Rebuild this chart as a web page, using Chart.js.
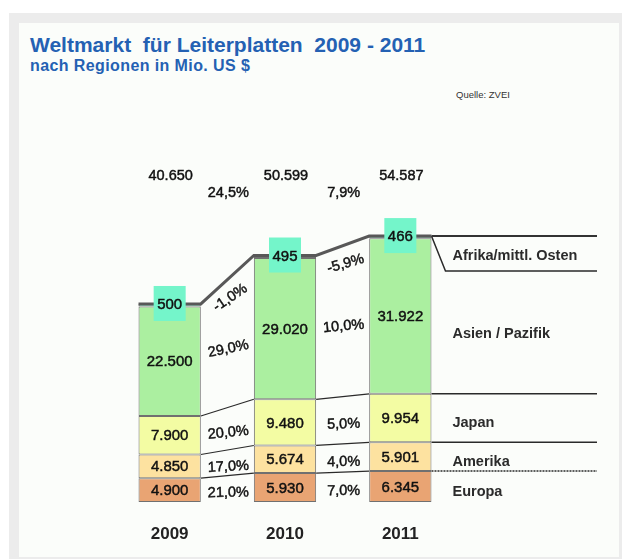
<!DOCTYPE html>
<html>
<head>
<meta charset="utf-8">
<script src="https://cdn.jsdelivr.net/npm/chart.js@4.4.1/dist/chart.umd.min.js"></script>
<style>
  html, body { margin: 0; padding: 0; background: #fff; }
  #wrap { position: relative; width: 622px; height: 559px; overflow: hidden; font-family: "Liberation Sans", Arial, sans-serif; }
  #frame { position: absolute; left: 9px; top: 13px; width: 613px; height: 546px; background: #ececec; }
  #panel { position: absolute; left: 19px; top: 23px; width: 600px; height: 534px; background: #fbfdfa; }
  #title { position: absolute; left: 30px; top: 34px; font-size: 21px; line-height: 21px; font-weight: bold; color: #2461b3; white-space: pre; }
  #subtitle { position: absolute; left: 30px; top: 58px; font-size: 16px; line-height: 16px; letter-spacing: 0.4px; font-weight: bold; color: #2461b3; white-space: pre; }
  #source { position: absolute; left: 456px; top: 89px; font-size: 9.5px; line-height: 11px; color: #333; }
  canvas { position: absolute; left: 0; top: 0; }
</style>
</head>
<body>
<div id="wrap">
  <div id="frame"></div>
  <div id="panel"></div>
  <div id="title">Weltmarkt  für Leiterplatten  2009 - 2011</div>
  <div id="subtitle">nach Regionen in Mio. US $</div>
  <div id="source">Quelle: ZVEI</div>
  <canvas id="chart" width="622" height="559"></canvas>
</div>
<script>
const years = ["2009", "2010", "2011"];
const regions = ["Europa", "Amerika", "Japan", "Asien / Pazifik", "Afrika/mittl. Osten"];
const europa = [4900, 5930, 6345];
const amerika = [4850, 5674, 5901];
const japan = [7900, 9480, 9954];
const asien = [22500, 29020, 31922];
const afrika = [500, 495, 466];
const totals = ["40.650", "50.599", "54.587"];
const totalGrowth = ["24,5%", "7,9%"];
const europaGrowth = ["21,0%", "7,0%"];
const amerikaGrowth = ["17,0%", "4,0%"];
const japanGrowth = ["20,0%", "5,0%"];
const asienGrowth = ["29,0%", "10,0%"];
const afrikaGrowth = ["-1,0%", "-5,9%"];

const colors = ["#e9a473", "#fde2a0", "#f3fca3", "#abefa0", "#74f5ca"];
const series = [europa, amerika, japan, asien, afrika];
const growth = [europaGrowth, amerikaGrowth, japanGrowth, asienGrowth, afrikaGrowth];

const FONT = '"Liberation Sans", Arial, sans-serif';
const LINE_END = 597;

function fmt(v) {
  return String(v).replace(/\B(?=(\d{3})+(?!\d))/g, ".");
}

// text with a hair of stroke, the gif looks a bit heavier than plain regular
function text(ctx, str, x, y, font, angle) {
  ctx.save();
  ctx.translate(x, y);
  if (angle) ctx.rotate(angle);
  ctx.font = font;
  ctx.fillStyle = "#111";
  ctx.strokeStyle = "#111";
  ctx.lineWidth = 0.45;
  ctx.textAlign = "center";
  ctx.textBaseline = "middle";
  ctx.fillText(str, 0, 0);
  ctx.strokeText(str, 0, 0);
  ctx.restore();
}

function line(ctx, pts, width, color, dash) {
  ctx.save();
  ctx.beginPath();
  ctx.moveTo(pts[0][0], pts[0][1]);
  pts.slice(1).forEach(p => ctx.lineTo(p[0], p[1]));
  ctx.lineWidth = width;
  ctx.strokeStyle = color;
  ctx.setLineDash(dash || []);
  ctx.stroke();
  ctx.restore();
}

const decor = {
  id: "decor",
  afterDatasetsDraw(chart) {
    const ctx = chart.ctx;
    const metas = series.map((_, i) => chart.getDatasetMeta(i));
    const bars = years.map((_, j) => {
      const el = metas[0].data[j];
      const half = el.width / 2;
      const tops = metas.map(m => m.data[j].y);
      const bottoms = tops.map((t, k) => k === 0 ? el.base : tops[k - 1]);
      return { x: el.x, l: el.x - half, r: el.x + half, tops, bottoms };
    });
    const last = bars[bars.length - 1];
    const top = chart.chartArea.top;

    // thin connecting lines (Europa, Amerika, Japan tops)
    for (let k = 0; k < 3; k++) {
      for (let j = 0; j < bars.length - 1; j++) {
        line(ctx, [[bars[j].r, bars[j].tops[k]], [bars[j + 1].l, bars[j + 1].tops[k]]], 1.2, "#2a2a2a");
      }
      line(ctx, [[last.r, last.tops[k]], [LINE_END, last.tops[k]]], 1.5, "#2a2a2a", k === 0 ? [2, 1] : []);
    }

    // Afrika bracket on the right
    const t4 = last.tops[4];
    line(ctx, [[last.r, t4], [last.r + 14, t4 + 35], [LINE_END, t4 + 35]], 1.5, "#2a2a2a");
    line(ctx, [[last.r, t4], [LINE_END, t4]], 2, "#333");

    // thick total line
    const pts = [];
    bars.forEach(b => { pts.push([b.l, b.tops[4]]); pts.push([b.r, b.tops[4]]); });
    line(ctx, pts, 3, "#585858");

    bars.forEach((b, j) => {
      for (let k = 0; k < 4; k++) {
        text(ctx, fmt(series[k][j]), b.x, (b.tops[k] + b.bottoms[k]) / 2 + 1, "15px " + FONT);
      }
      // Afrika box
      ctx.fillStyle = colors[4];
      ctx.fillRect(b.x - 16, b.tops[4] - 18, 32, 35);
      text(ctx, fmt(series[4][j]), b.x, b.tops[4] + 1, "15px " + FONT);
      text(ctx, totals[j], b.x + 1, top + 15, "14.5px " + FONT);
    });

    // growth between years
    for (let j = 0; j < bars.length - 1; j++) {
      const a = bars[j], b = bars[j + 1];
      const xm = (a.r + b.l) / 2;
      const gap = b.l - a.r;
      text(ctx, totalGrowth[j], xm + 1, top + 32, "14.5px " + FONT);
      for (let k = 0; k < 4; k++) {
        const yt = (a.tops[k] + b.tops[k]) / 2;
        const yb = (a.bottoms[k] + b.bottoms[k]) / 2;
        const st = Math.atan2(b.tops[k] - a.tops[k], gap);
        const sb = Math.atan2(b.bottoms[k] - a.bottoms[k], gap);
        text(ctx, growth[k][j], xm + 1, (yt + yb) / 2 + 4, "14.5px " + FONT, 0.4 * (st + sb) / 2);
      }
      const s4 = Math.atan2(b.tops[4] - a.tops[4], gap);
      const y4 = (a.tops[4] + b.tops[4]) / 2;
      text(ctx, growth[4][j], xm + 3, y4 + 18, "14.5px " + FONT, 0.8 * s4);
    }

    // region labels on the right
    const lx = last.r + 21;
    ctx.save();
    ctx.font = "bold 14.5px " + FONT;
    ctx.fillStyle = "#2b2b2b";
    ctx.textAlign = "left";
    ctx.textBaseline = "middle";
    const bands = [
      [last.tops[0], last.bottoms[0]],
      [last.tops[1], last.bottoms[1]],
      [last.tops[2], last.bottoms[2]],
      [t4 + 35, last.tops[2]],
      [t4, t4 + 35]
    ];
    bands.forEach((bd, k) => ctx.fillText(regions[k], lx, (bd[0] + bd[1]) / 2 + (k < 3 ? 5 : 2)));
    ctx.restore();
  }
};

new Chart(document.getElementById("chart"), {
  type: "bar",
  data: {
    labels: years,
    datasets: series.map((s, k) => ({
      label: regions[k],
      data: s,
      backgroundColor: colors[k],
      borderColor: "#707070",
      borderWidth: 1,
      borderSkipped: false
    }))
  },
  options: {
    responsive: false,
    animation: false,
    devicePixelRatio: 1,
    layout: { padding: { left: 112, right: 164, top: 161, bottom: 0 } },
    datasets: { bar: { barPercentage: 0.54, categoryPercentage: 1 } },
    scales: {
      x: {
        stacked: true,
        grid: { display: false, drawTicks: false },
        border: { display: false },
        ticks: { color: "#222", padding: 22, font: { family: FONT, size: 17, weight: "bold" } },
        afterFit(scale) { scale.height = 57; }
      },
      y: { stacked: true, display: false, min: 0, max: 70000 }
    },
    plugins: { legend: { display: false }, tooltip: { enabled: false } }
  },
  plugins: [decor]
});
</script>
</body>
</html>
